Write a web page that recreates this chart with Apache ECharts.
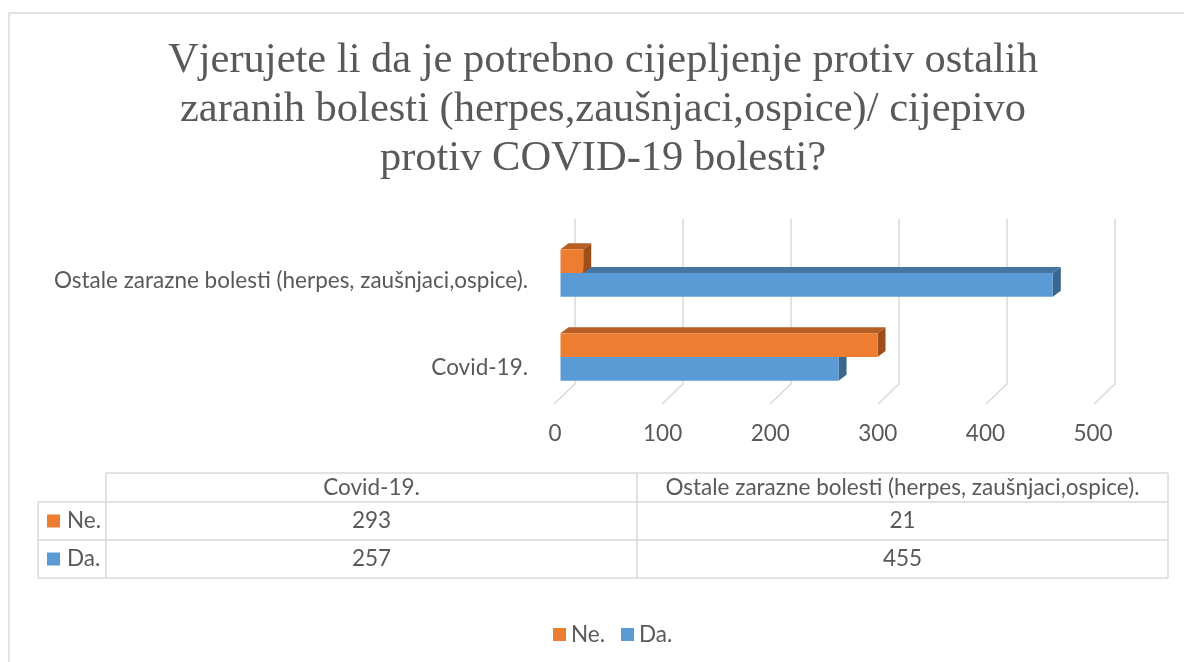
<!DOCTYPE html>
<html>
<head>
<meta charset="utf-8">
<script src="https://cdn.jsdelivr.net/npm/echarts@6/dist/echarts.min.js"></script>
<style>
html, body {margin: 0; padding: 0; background: #fff;}
#chart {width: 1184px; height: 662px;}
</style>
</head>
<body>
<div id="chart"></div>
<script>
var categories = ['Covid-19.', 'Ostale zarazne bolesti (herpes, zaušnjaci,ospice).'];
var seriesNames = ['Ne.', 'Da.'];
var neValues = [293, 21];
var daValues = [257, 455];
var xTicks = [0, 100, 200, 300, 400, 500];

var titleText = 'Vjerujete li da je potrebno cijepljenje protiv ostalih\nzaranih bolesti (herpes,zaušnjaci,ospice)/ cijepivo\nprotiv COVID-19 bolesti?';

var textColor = '#595959', lineColor = '#d9d9d9';
var sansFont = 'Lato', serifFont = 'Liberation Serif';
var sansSize = 22.5;
var colors = {
    'Ne.': {front: '#ed7d31', top: '#b65e24', side: '#9c4f1b'},
    'Da.': {front: '#5b9bd5', top: '#4675a2', side: '#3a6690'}
};
var depthX = 8, depthY = 6;

var chart = echarts.init(document.getElementById('chart'));

// one 3d bar: side, top, then front face
var makeBar = function (name, values, above) {
    var c = colors[name];
    return {
        name: name,
        type: 'custom',
        xAxisIndex: 0,
        yAxisIndex: 0,
        itemStyle: {color: c.front},
        data: values.map(function (v, i) { return [v, i]; }),
        renderItem: function (params, api) {
            var start = api.coord([0, api.value(1)]);
            var end = api.coord([api.value(0), api.value(1)]);
            var h = api.size([0, 1])[1] * 0.282;
            var y0 = above ? start[1] - h : start[1];
            var y1 = y0 + h;
            var x0 = start[0], x1 = end[0];
            return {
                type: 'group',
                children: [{
                    type: 'polygon',
                    shape: {points: [[x1, y0], [x1 + depthX, y0 - depthY], [x1 + depthX, y1 - depthY], [x1, y1]]},
                    style: {fill: c.side}
                }, {
                    type: 'polygon',
                    shape: {points: [[x0, y0], [x0 + depthX, y0 - depthY], [x1 + depthX, y0 - depthY], [x1, y0]]},
                    style: {fill: c.top}
                }, {
                    type: 'rect',
                    shape: {x: x0, y: y0, width: x1 - x0, height: h},
                    style: {fill: c.front}
                }]
            };
        }
    };
};

// data table under the plot
var tableLeft = 38, col0 = 106, col1 = 637, tableRight = 1168;
var rowTops = [473, 502, 540, 578];
var tableGraphics = [];
var hLine = function (x1, x2, y) {
    tableGraphics.push({type: 'line', shape: {x1: x1, y1: y, x2: x2, y2: y}, style: {stroke: lineColor, lineWidth: 1.5}, silent: true});
};
var vLine = function (x, y1, y2) {
    tableGraphics.push({type: 'line', shape: {x1: x, y1: y1, x2: x, y2: y2}, style: {stroke: lineColor, lineWidth: 1.5}, silent: true});
};
hLine(col0, tableRight, rowTops[0]);
hLine(tableLeft, tableRight, rowTops[1]);
hLine(tableLeft, tableRight, rowTops[2]);
hLine(tableLeft, tableRight, rowTops[3]);
vLine(tableLeft, rowTops[1], rowTops[3]);
vLine(col0, rowTops[0], rowTops[3]);
vLine(col1, rowTops[0], rowTops[3]);
vLine(tableRight, rowTops[0], rowTops[3]);

var colCenters = [(col0 + col1) / 2, (col1 + tableRight) / 2];
var cellText = function (text, x, y, align) {
    tableGraphics.push({
        type: 'text', x: x, y: y, silent: true,
        style: {text: text, fill: textColor, font: sansSize + 'px ' + sansFont, align: align || 'center', verticalAlign: 'middle'}
    });
};
categories.forEach(function (cat, i) {
    cellText(cat, colCenters[i], (rowTops[0] + rowTops[1]) / 2);
});
[neValues, daValues].forEach(function (vals, r) {
    var cy = (rowTops[r + 1] + rowTops[r + 2]) / 2;
    var name = seriesNames[r];
    tableGraphics.push({type: 'rect', shape: {x: 47, y: cy - 6.5, width: 13, height: 13}, style: {fill: colors[name].front}, silent: true});
    cellText(name, 67, cy, 'left');
    vals.forEach(function (v, i) {
        cellText(String(v), colCenters[i], cy);
    });
});

var option = {
    backgroundColor: '#fff',
    animation: false,
    title: {
        text: titleText,
        left: 603,
        top: 36,
        padding: 0,
        textAlign: 'center',
        textStyle: {fontFamily: serifFont, fontSize: 42.5, fontWeight: 'normal', lineHeight: 49, color: textColor}
    },
    legend: {
        data: seriesNames,
        left: 548,
        top: 618,
        icon: 'rect',
        itemWidth: 13,
        itemHeight: 13,
        itemGap: 16,
        textStyle: {fontFamily: sansFont, fontSize: sansSize, color: textColor}
    },
    grid: [
        {left: 560.5, top: 231, width: 541, height: 168},
        {left: 555, top: 237.5, width: 538, height: 174},
        {left: 575, top: 219, width: 540, height: 165}
    ],
    xAxis: [
        {gridIndex: 0, type: 'value', min: 0, max: 500, show: false},
        {
            gridIndex: 1, type: 'value', min: 0, max: 500, interval: 100,
            axisLine: {show: false}, axisTick: {show: false}, splitLine: {show: false},
            axisLabel: {margin: 11, color: textColor, fontFamily: sansFont, fontSize: sansSize}
        },
        {gridIndex: 2, type: 'value', min: 0, max: 500, show: false}
    ],
    yAxis: [
        {gridIndex: 0, type: 'category', data: categories, show: false},
        {
            gridIndex: 1, type: 'category', data: categories,
            axisLine: {show: false}, axisTick: {show: false}, splitLine: {show: false},
            axisLabel: {margin: 27, color: textColor, fontFamily: sansFont, fontSize: sansSize}
        },
        {gridIndex: 2, type: 'value', min: 0, max: 1, show: false}
    ],
    graphic: [{
        type: 'rect', silent: true, z: -1,
        shape: {x: 9, y: 13, width: 1200, height: 700},
        style: {fill: null, stroke: lineColor, lineWidth: 1.5}
    }].concat(tableGraphics),
    series: [{
        name: 'walls',
        type: 'custom',
        xAxisIndex: 2,
        yAxisIndex: 2,
        silent: true,
        z: 1,
        data: xTicks.map(function (t) { return [t]; }),
        renderItem: function (params, api) {
            var top = api.coord([api.value(0), 1]);
            var bottom = api.coord([api.value(0), 0]);
            return {
                type: 'polyline',
                shape: {points: [top, bottom, [bottom[0] - 21, bottom[1] + 20]]},
                style: {stroke: lineColor, lineWidth: 1.5, fill: null}
            };
        }
    },
        makeBar('Da.', daValues, false),
        makeBar('Ne.', neValues, true)
    ]
};
chart.setOption(option);
</script>
</body>
</html>
